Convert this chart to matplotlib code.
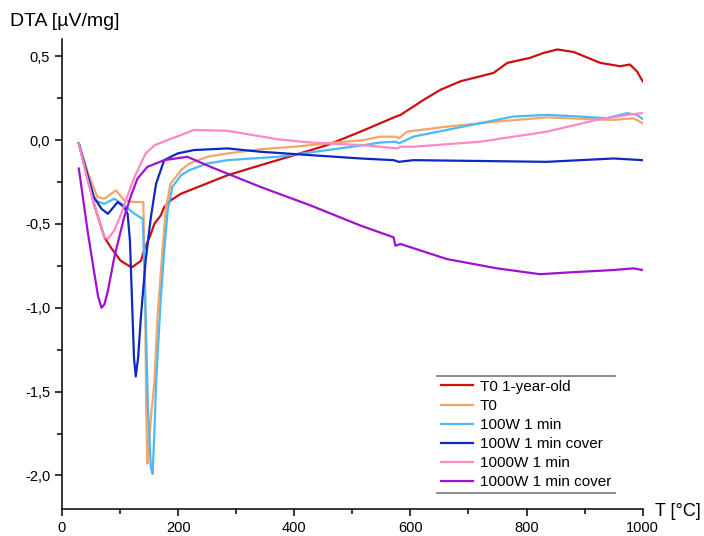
import matplotlib
matplotlib.use("Agg")
import matplotlib.pyplot as plt
from matplotlib.ticker import MultipleLocator, FuncFormatter
from matplotlib.lines import Line2D

plt.rcParams['font.family'] = ['Liberation Sans', 'DejaVu Sans']

labels = ["T0 1-year-old", "T0", "100W 1 min", "100W 1 min cover", "1000W 1 min", "1000W 1 min cover"]
colors = ["#cc1010", "#f5a565", "#4cb8f5", "#1028c0", "#ff88c8", "#a010d0"]

red_T = [29, 40, 55, 73, 84, 101, 120, 136, 141, 153, 159, 170, 176, 187, 205, 227, 285, 342, 400, 457, 514, 548, 575, 583, 623, 652, 686, 743, 767, 806, 830, 853, 881, 927, 961, 978, 990, 1000]
red_v = [-0.02, -0.17, -0.38, -0.58, -0.64, -0.72, -0.76, -0.72, -0.66, -0.56, -0.50, -0.45, -0.40, -0.36, -0.32, -0.29, -0.21, -0.15, -0.09, -0.03, 0.05, 0.10, 0.14, 0.15, 0.24, 0.30, 0.35, 0.40, 0.46, 0.49, 0.52, 0.54, 0.525, 0.46, 0.44, 0.45, 0.41, 0.35]

t0_T = [29, 45, 61, 73, 93, 107, 125, 140, 143, 145, 147, 150, 154, 159, 164.5, 173, 179, 187, 205, 219, 250, 285, 342, 400, 457, 520, 548, 575, 580, 594, 663, 749, 835, 904, 950, 984, 1000]
t0_v = [-0.02, -0.20, -0.34, -0.35, -0.30, -0.36, -0.37, -0.37, -0.9, -1.6, -1.93, -1.80, -1.62, -1.45, -1.05, -0.66, -0.40, -0.26, -0.18, -0.14, -0.10, -0.08, -0.055, -0.04, -0.02, 0.0, 0.02, 0.02, 0.01, 0.05, 0.08, 0.11, 0.135, 0.125, 0.12, 0.13, 0.10]

w100_T = [29, 45, 55, 73, 90, 107, 125, 139, 143, 148, 153, 156, 159, 162, 170, 176, 182, 190, 205, 219, 250, 285, 371, 457, 520, 548, 575, 580, 605, 691, 777, 835, 892, 938, 973, 990, 1000]
w100_v = [-0.02, -0.25, -0.36, -0.38, -0.35, -0.39, -0.44, -0.47, -0.9, -1.6, -1.95, -1.99, -1.75, -1.45, -0.95, -0.66, -0.42, -0.28, -0.21, -0.18, -0.14, -0.12, -0.10, -0.06, -0.03, -0.015, -0.01, -0.02, 0.02, 0.08, 0.14, 0.15, 0.14, 0.13, 0.16, 0.15, 0.125]

w100c_T = [29, 45, 55, 68, 79, 96, 107, 113, 117, 121, 124, 127, 131, 136, 144, 153, 162, 176, 199, 227, 285, 342, 428, 514, 571, 580, 605, 720, 835, 950, 1000]
w100c_v = [-0.02, -0.22, -0.34, -0.41, -0.44, -0.37, -0.40, -0.44, -0.60, -1.00, -1.30, -1.41, -1.30, -1.05, -0.72, -0.46, -0.26, -0.12, -0.08, -0.06, -0.05, -0.07, -0.09, -0.11, -0.12, -0.13, -0.12, -0.125, -0.13, -0.11, -0.12]

w1000_T = [29, 45, 55, 66, 73, 79, 90, 102, 113, 125, 144, 160, 182, 205, 227, 285, 371, 428, 514, 548, 577, 583, 605, 720, 835, 921, 984, 1000]
w1000_v = [-0.02, -0.25, -0.38, -0.50, -0.58, -0.59, -0.54, -0.44, -0.33, -0.22, -0.08, -0.03, 0.0, 0.03, 0.06, 0.055, 0.005, -0.015, -0.03, -0.04, -0.05, -0.04, -0.04, -0.01, 0.05, 0.12, 0.155, 0.16]

w1000c_T = [29, 44, 55, 62, 68, 73, 79, 90, 107, 119, 130, 147, 176, 216, 256, 342, 428, 514, 571, 574, 583, 663, 749, 823, 870, 950, 984, 1000]
w1000c_v = [-0.17, -0.54, -0.78, -0.93, -1.00, -0.98, -0.90, -0.70, -0.46, -0.33, -0.23, -0.16, -0.12, -0.10, -0.16, -0.28, -0.39, -0.51, -0.58, -0.63, -0.62, -0.71, -0.765, -0.80, -0.79, -0.775, -0.765, -0.775]

series = [(red_T, red_v), (t0_T, t0_v), (w100_T, w100_v), (w100c_T, w100c_v), (w1000_T, w1000_v), (w1000c_T, w1000c_v)]

x_ticks = [0, 200, 400, 600, 800, 1000]
y_ticks = [0.5, 0.0, -0.5, -1.0, -1.5, -2.0]

fig = plt.figure(figsize=(7.04, 5.36), dpi=100)
ax = fig.add_axes([62/704, 27/536, (642.7-62)/704, (509-39.4)/536])

for (T, v), c, lab in zip(series, colors, labels):
    ax.plot(T, v, color=c, lw=1.6, label=lab)

ax.set_xlim(0, 1000)
ax.set_ylim(-2.2, 0.6)
ax.set_xticks(x_ticks)
ax.set_yticks(y_ticks)
ax.xaxis.set_minor_locator(MultipleLocator(100))
ax.yaxis.set_minor_locator(MultipleLocator(0.25))
ax.yaxis.set_major_formatter(FuncFormatter(lambda v, p: f"{v:.1f}".replace('.', ',')))
ax.spines['top'].set_visible(False)
ax.spines['right'].set_visible(False)
for s in ['left', 'bottom']:
    ax.spines[s].set_linewidth(1.1)
ax.tick_params(which='major', length=5, width=1.1, labelsize=10.5)
ax.tick_params(which='minor', length=3.5, width=1.1)
ax.tick_params(axis='x', which='major', pad=3.5)
ax.tick_params(axis='y', which='major', pad=3.5)

fig.text(10/704, 1 - 22/536, "DTA [µV/mg]", fontsize=14, ha='left', va='center')
fig.text(655/704, 1 - 511/536, "T [°C]", fontsize=13, ha='left', va='center')

leg = ax.legend(loc='upper left', bbox_to_anchor=(437/704, 1 - 376/536), bbox_transform=fig.transFigure,
                frameon=False, fontsize=11, handlelength=2.1, handletextpad=0.45, labelspacing=0.33,
                borderpad=0.25, borderaxespad=0)
fig.canvas.draw()
bb = leg.get_window_extent().transformed(fig.transFigure.inverted())
x0, x1 = bb.x0, max(bb.x1, 614/704)
for yy in (bb.y0, bb.y1):
    fig.add_artist(Line2D([x0, x1], [yy, yy], transform=fig.transFigure, color='#777777', lw=1.2))

fig.savefig("out.png", dpi=100)
